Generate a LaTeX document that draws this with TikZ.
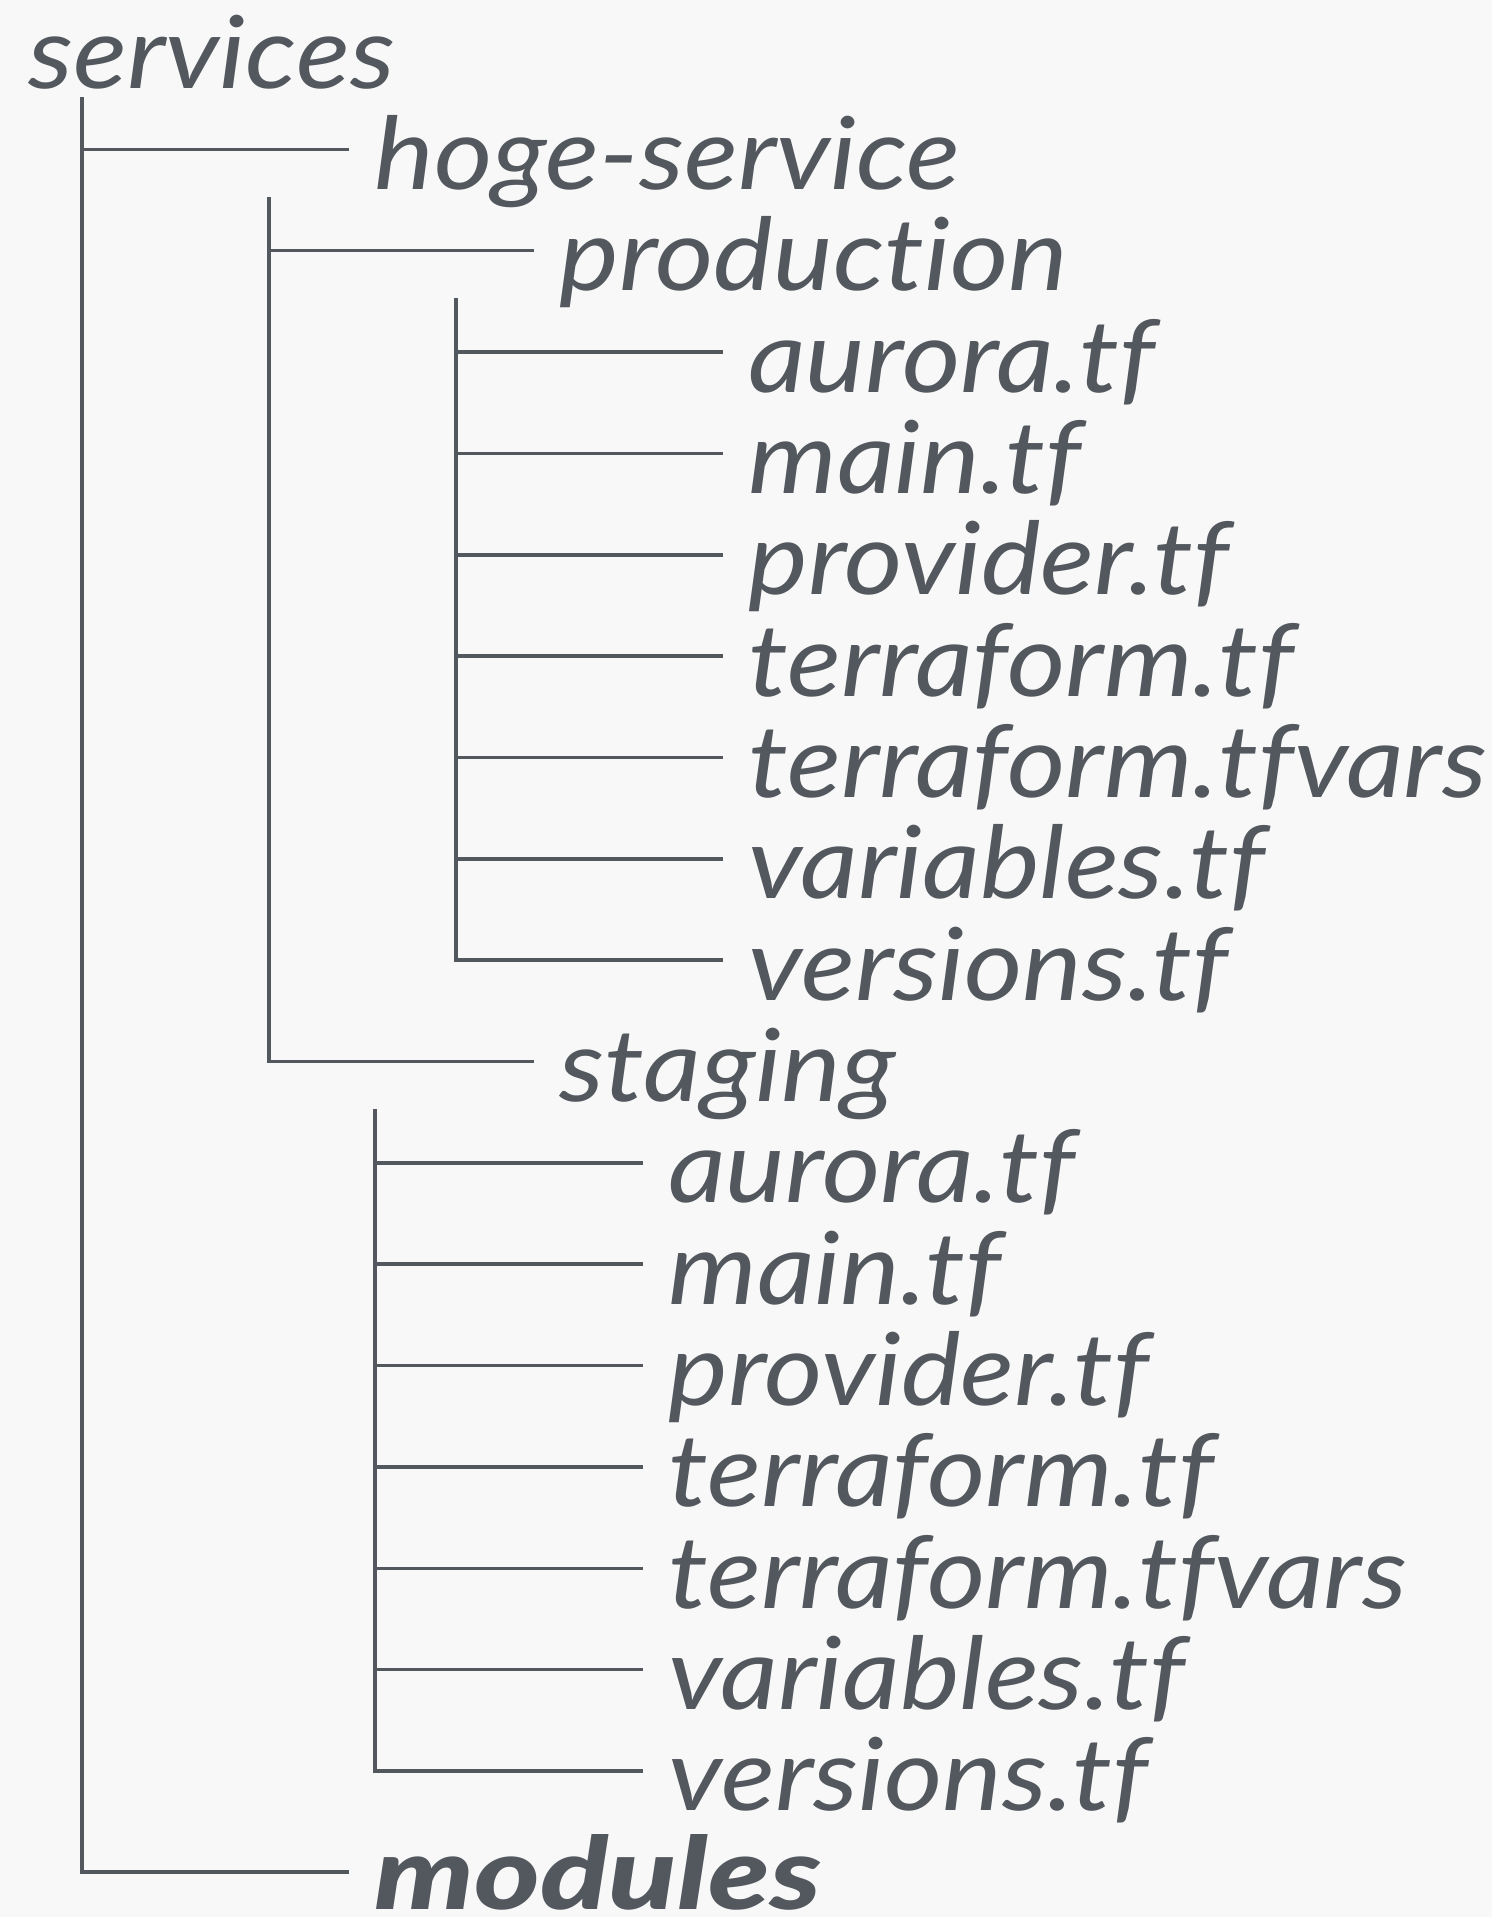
\documentclass[tikz,border=0pt]{standalone}
\usepackage{fontspec}
\setmainfont{Lato}[FakeStretch=1.12, RawFeature={-liga;-clig;-dlig}]
\newfontfamily\heavyfont{Lato Black Italic}[FakeStretch=1.25, RawFeature={-liga;-clig;-dlig}]
\definecolor{ink}{RGB}{83,88,94}
\definecolor{paper}{RGB}{248,248,248}
\begin{document}
\begin{tikzpicture}[x=0.5pt,y=-0.5pt,
  item/.style={anchor=base west, inner xsep=12.5pt, inner ysep=0pt, text=ink,
    font=\fontsize{50.3pt}{60pt}\selectfont\itshape},
  strong/.style={item, font=\fontsize{50.3pt}{60pt}\heavyfont},
  branch/.style={draw=ink, line width=1.75pt}]
  % canvas
  \fill[paper] (0,0) rectangle (1492,1917);
  \useasboundingbox (0,0) rectangle (1492,1917);

  % folder and file labels
  \node[item] (services) at (3,88) {services};
  \node[item] (hoge)     at (349,189.35) {hoge-service};
  \node[item] (prod)     at (534,290.7) {production};
  \node[item] (p1) at (723,392.05)  {aurora.tf};
  \node[item] (p2) at (723,493.4)   {main.tf};
  \node[item] (p3) at (723,594.75)  {provider.tf};
  \node[item] (p4) at (723,696.1)   {terraform.tf};
  \node[item] (p5) at (723,797.45)  {terraform.tfvars};
  \node[item] (p6) at (723,898.8)   {variables.tf};
  \node[item] (p7) at (723,1000.15) {versions.tf};
  \node[item] (stg)      at (534,1101.5) {staging};
  \node[item] (s1) at (643,1202.85) {aurora.tf};
  \node[item] (s2) at (643,1304.2)  {main.tf};
  \node[item] (s3) at (643,1405.55) {provider.tf};
  \node[item] (s4) at (643,1506.9)  {terraform.tf};
  \node[item] (s5) at (643,1608.25) {terraform.tfvars};
  \node[item] (s6) at (643,1709.6)  {variables.tf};
  \node[item] (s7) at (643,1810.95) {versions.tf};
  \node[strong] (modules) at (349,1909) {modules};

  % tops of the vertical trunks
  \coordinate (t0) at (82,97);
  \coordinate (t1) at (269,197);
  \coordinate (t2) at (456,298);
  \coordinate (t3) at (375,1109);

  % branches
  \foreach \c in {hoge}
    \draw[branch] (t0) |- ([yshift=20pt]\c.base west);
  \draw[branch] (t0) |- ([yshift=18.5pt]modules.base west);
  \foreach \c in {prod,stg}
    \draw[branch] (t1) |- ([yshift=20pt]\c.base west);
  \foreach \c in {p1,p2,p3,p4,p5,p6,p7}
    \draw[branch] (t2) |- ([yshift=20pt]\c.base west);
  \foreach \c in {s1,s2,s3,s4,s5,s6,s7}
    \draw[branch] (t3) |- ([yshift=20pt]\c.base west);
\end{tikzpicture}
\end{document}
